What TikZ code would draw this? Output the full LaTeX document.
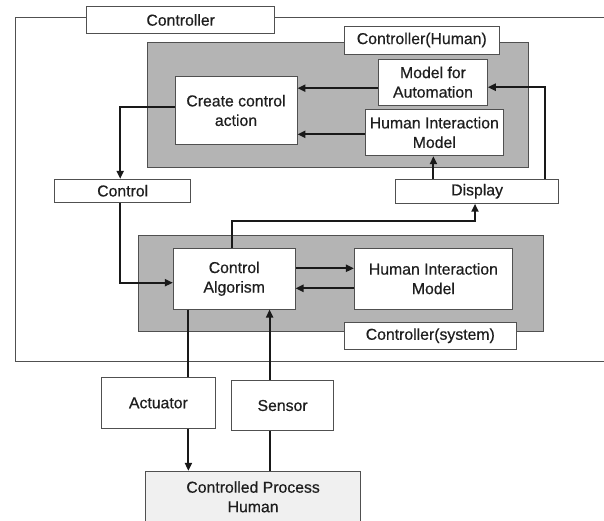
\documentclass[tikz,border=0pt]{standalone}
\usepackage{fontspec}
\setmainfont{Liberation Sans}[FakeBold=0.5]
\usetikzlibrary{arrows.meta}
\definecolor{grayfill}{HTML}{B4B4B4}
\definecolor{edge}{HTML}{505050}
\definecolor{cpfill}{HTML}{F0F0F0}
\definecolor{txt}{HTML}{1E1E1E}
\tikzset{
  box/.style={draw=edge, line width=0.9pt, fill=white, rectangle, inner sep=0pt, align=center, text=txt,
    font=\fontsize{15.8}{19.5}\selectfont},
  grp/.style={draw=edge, line width=0.9pt, fill=grayfill},
  frame/.style={draw=edge, line width=0.9pt},
  arr/.style={draw=black!90, line width=2pt, -{Triangle[length=8pt,width=7pt]}},
  plain/.style={draw=black!90, line width=2pt},
}
\begin{document}
\begin{tikzpicture}[x=1pt,y=-1pt]
\useasboundingbox (0,0) rectangle (604,521);
\clip (0,0) rectangle (604,521);
\fill[white] (0,0) rectangle (604,521);
% outer controller frame (open at right)
\draw[frame] (606,17.3) -- (15.4,17.3) -- (15.4,361) -- (606,361);
\node[box, minimum width=188pt, minimum height=26.6pt] (ctrl) at (180.7,20) {Controller};
% human controller
\draw[grp] (147,42.3) rectangle (528.5,167.7);
\node[box, minimum width=155.6pt, minimum height=28pt] (humlab) at (421.8,40) {Controller(Human)};
\node[box, minimum width=108.6pt, minimum height=45.7pt] (mfa) at (433,82.2) {Model for\\Automation};
\node[box, minimum width=138.5pt, minimum height=46.4pt] (him1) at (434.3,132.5) {Human Interaction\\Model};
\node[box, minimum width=122pt, minimum height=67.6pt] (create) at (236,110.5) {Create control\\action};
\node[box, minimum width=136pt, minimum height=23pt] (control) at (122.7,190.8) {Control};
\node[box, minimum width=163pt, minimum height=24pt] (display) at (477.1,191.3) {Display};
% system controller
\draw[grp] (138,235.3) rectangle (543,331.3);
\node[box, minimum width=121.7pt, minimum height=60.7pt] (ca) at (234.2,278.7) {Control\\Algorism};
\node[box, minimum width=158pt, minimum height=60.7pt] (him2) at (433.4,278.7) {Human Interaction\\Model};
\node[box, minimum width=172.6pt, minimum height=26.7pt] (syslab) at (430.3,335.7) {Controller(system)};
% outside
\node[box, minimum width=114.7pt, minimum height=51.7pt] (act) at (158.4,402.9) {Actuator};
\node[box, minimum width=102pt, minimum height=50.4pt] (sens) at (282.6,405.5) {Sensor};
\node[box, fill=cpfill, minimum width=215pt, minimum height=51pt] (cp) at (253.1,496.8) {Controlled Process\\Human};
% connectors
\draw[arr] ([yshift=-6pt]mfa.west) coordinate (a1) -- (a1 -| create.east);
\draw[arr] ([yshift=-1.8pt]him1.west) coordinate (a2) -- (a2 -| create.east);
\draw[arr] ([yshift=3.2pt]create.west) -| ([xshift=-2.5pt]control.north);
\draw[arr] ([xshift=-2.5pt]control.south) |- ([yshift=-4pt]ca.west);
\draw[arr] ([xshift=-1.9pt]ca.north) -- ++(0,-27.3) -| ([xshift=-2.1pt]display.south);
\draw[arr] ([xshift=-0.9pt]him1.south |- display.north) -- ([xshift=-0.9pt]him1.south);
\draw[arr] ([xshift=-14.3pt]display.north east) |- ([yshift=-5pt]mfa.east);
\draw[arr] ([yshift=10.4pt]ca.east) coordinate (a3) -- (a3 -| him2.west);
\draw[arr] ([yshift=-9.6pt]him2.west) coordinate (a4) -- (a4 -| ca.east);
\draw[plain] ([xshift=15.5pt]ca.south west) coordinate (a5) -- (a5 |- act.north);
\draw[arr] (a5 |- act.south) -- (a5 |- cp.north);
\coordinate (a6) at ([xshift=35.4pt]ca.south);
\draw[arr] (a6 |- sens.north) -- (a6);
\draw[plain] (a6 |- sens.south) -- (a6 |- cp.north);
\end{tikzpicture}
\end{document}
